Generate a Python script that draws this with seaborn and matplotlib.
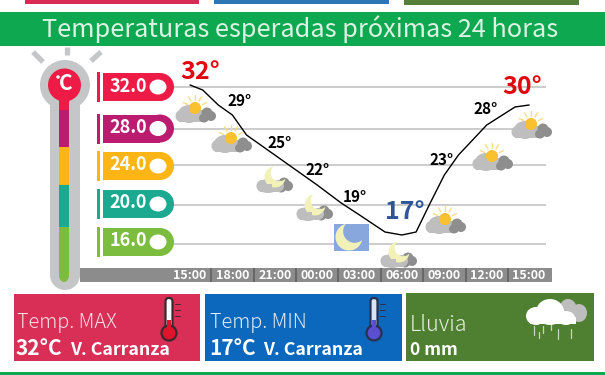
import numpy as np
import matplotlib
matplotlib.use("Agg")
import matplotlib.pyplot as plt
from matplotlib.patches import Circle, Ellipse, Rectangle, Polygon, FancyBboxPatch
import seaborn as sns

# Data
# --------------
title = "Temperaturas esperadas próximas 24 horas"

trace_hours = [0, 0.9, 2, 3, 4, 7, 9, 10.7, 12, 13.8, 15, 16, 17, 18, 19, 21, 23, 24]
trace_temps = [32, 31.5, 30, 29, 27, 24, 22, 20.2, 19, 17.3, 17, 17.3, 20.2, 23, 25, 28, 29.8, 30]

tick_hours = [0, 3, 6, 9, 12, 15, 18, 21, 24]
tick_labels = ["15:00", "18:00", "21:00", "00:00", "03:00", "06:00", "09:00", "12:00", "15:00"]

small_hours = [3, 6, 9, 12, 18, 21]
small_temps = [29, 25, 22, 19, 23, 28]
big_hours = [0, 15, 24]
big_temps = [32, 17, 30]
big_colors = ["#E2070F", "#2E5597", "#E2070F"]

level_labels = ["32.0", "28.0", "24.0", "20.0", "16.0"]
level_marks = [31.8, 27.6, 24.0, 20.0, 16.1]
level_colors = ["#ED1B45", "#BC1C6F", "#FDB515", "#1BA98F", "#7CBC3F"]

icon_kinds = ["sun", "sun", "moon", "moon", "box", "moon", "sun", "sun", "sun"]

GREEN = "#0DA850"
GRAY = "#C5C6C8"

# Set-up
# --------------
sns.set_theme(style="white")
plt.rcParams["font.family"] = ["Noto Sans CJK JP", "DejaVu Sans"]

figure = plt.figure(figsize=(6.05, 3.75), dpi=100)

# chart axes, placed so 1 hour = 14.13 px and 1 degree = 10 px
left, right, top, bottom = 80, 552, 60, 282
ax = figure.add_axes([left / 605, 1 - bottom / 375, (right - left) / 605, (bottom - top) / 375])
ax.set_xlim((left - 190) / 14.13, (right - 190) / 14.13)
ax.set_ylim(32 - (bottom - 85) / 10, 32 - (top - 85) / 10)
ax.patch.set_alpha(0)
ax.set_axisbelow(False)
sns.despine(ax=ax, left=True, bottom=True)
ax.set_yticks([])

# pixel axes for the decoration, above the chart
deco = figure.add_axes([0, 0, 1, 1], zorder=2)
deco.set_xlim(0, 605)
deco.set_ylim(375, 0)
deco.axis("off")
deco.patch.set_alpha(0)


def box(x0, y0, x1, y1, color, z=1, **kw):
    patch = Rectangle((x0, y0), x1 - x0, y1 - y0, color=color, lw=0, zorder=z, **kw)
    deco.add_patch(patch)
    return patch


def blob(x, y, w, h, color, z=1):
    deco.add_patch(Ellipse((x, y), w, h, color=color, lw=0, zorder=z))


def crescent(cx, cy, R, r, d, phi, color, z=3):
    # outer arc on the far side, inner arc back on the near side
    px = (d * d + R * R - r * r) / (2 * d)
    h = np.sqrt(R * R - px * px)
    a = np.arctan2(h, px)
    b = np.arctan2(h, px - d)
    t1 = np.linspace(a, 2 * np.pi - a, 40)
    t2 = np.linspace(2 * np.pi - b, b, 40)
    xs = np.r_[R * np.cos(t1), d + r * np.cos(t2)]
    ys = np.r_[R * np.sin(t1), r * np.sin(t2)]
    c, s = np.cos(phi), np.sin(phi)
    deco.add_patch(Polygon(np.c_[cx + xs * c - ys * s, cy + xs * s + ys * c], color=color, lw=0, zorder=z))


def grey_cloud(x, base, w, hump=18, color="#BEBEBE", z=2.5):
    box(x + 3, base - 8, x + w - 3, base, color, z)
    blob(x + 5, base - 6, 11, 12, color, z)
    blob(x + w * 0.42, base - hump / 2 + 1, 22, hump, color, z)
    blob(x + w - 5, base - 6, 12, 12, color, z)


def dark_cloud(x, y, z=2):
    blob(x, y, 11, 11, "#8E8E8E", z)
    blob(x + 4, y + 3, 10, 10, "#8E8E8E", z)
    blob(x - 3, y + 5, 10, 9, "#8E8E8E", z)


def sun_icon(x, base):
    for ang in [25, 60, 90, 120, 155]:
        ca, sa = np.cos(np.radians(ang)), np.sin(np.radians(ang))
        deco.plot([x + 19 + 8 * ca, x + 19 + 13 * ca], [base - 14 - 8 * sa, base - 14 - 13 * sa],
                  color="#F5DE8A", lw=1, zorder=1.5)
    dark_cloud(x + 31, base - 9, 2.6)
    grey_cloud(x, base, 31)
    blob(x + 19, base - 14, 12, 12, "#F9C02F", 3)


def moon_icon(x, base):
    dark_cloud(x + 27, base - 9)
    grey_cloud(x, base, 26, hump=14)
    crescent(x + 18, base - 15, 10.5, 8.5, 6, np.radians(-45), "#F2F2B8", 3)
    box(x + 3, base - 8, x + 15, base, "#BEBEBE", 3.2)


# Chart
# --------------
ax.hlines(level_marks, (173 - 190) / 14.13, (546 - 190) / 14.13, color="#CCCCCC", lw=1.4, zorder=1)
ax.axhspan(12.3, 13.7, color="#8C8C8C", lw=0, zorder=1)
ax.vlines(np.array(tick_hours[:-1]) + 1.5, 12.3, 13.7, color="#666666", lw=1.4, zorder=2)

sns.lineplot(x=trace_hours, y=trace_temps, color="black", lw=1.0, ax=ax, zorder=4, errorbar=None)
ax.set_xticks(tick_hours, tick_labels)
ax.tick_params(axis="x", length=0, pad=-9.5, labelsize=9, labelcolor="white")
for tick in ax.get_xticklabels():
    tick.set_fontweight("bold")
ax.set(xlabel="", ylabel="")

# value labels, offsets in pixels from their points
small_offsets = [(7, 13.5), (5, 12), (0, 15), (-5, 17.5), (-2.5, 15), (-1.5, 15.5)]
for h, t, off in zip(small_hours, small_temps, small_offsets):
    ax.annotate(f"{t}°", (h, t), xytext=off, textcoords="offset pixels", ha="center", va="center",
                fontsize=11, fontweight="bold", color="black", zorder=5)
big_offsets = [(10, 13), (3, 23), (-7, 18)]
for h, t, c, off in zip(big_hours, big_temps, big_colors, big_offsets):
    ax.annotate(f"{t}°", (h, t), xytext=off, textcoords="offset pixels", ha="center", va="center",
                fontsize=18, fontweight="bold", color=c, zorder=5)

# Header and footer
# --------------
box(25, 0, 199, 4, "#D92C55")
box(214, 0, 389, 4, "#2E75B5")
box(404, 0, 579, 5, "#557F38")
box(0, 12, 605, 46, GREEN)
box(0, 372, 605, 375, GREEN)
deco.text(300, 29, title, ha="center", va="center", color="#DDF3E4", fontsize=18.2, zorder=2)

# Thermometer and level pills
# --------------
for x0, y0, x1, y1 in [(33, 52, 43, 62), (66.5, 47, 66.5, 55), (101, 52, 91, 61)]:
    deco.plot([x0, x1], [y0, y1], color=GRAY, lw=3.8, zorder=1, solid_capstyle="butt")
box(50, 85, 80, 275, GRAY)
blob(65, 275, 30, 30, GRAY)
blob(65, 85, 50, 50, GRAY)
seg_edges = [85, 110, 147, 185, 227, 275]
for y0, y1, c in zip(seg_edges[:-1], seg_edges[1:], level_colors):
    box(59, y0, 69, y1, c, 2)
blob(64, 275, 10, 14, level_colors[-1], 2)
blob(64.5, 85, 33, 33, level_colors[0], 3)
deco.text(65.5, 84, "C", color="white", fontsize=15, fontweight="bold", ha="center", va="center", zorder=4)
blob(58, 77, 3.5, 3.5, "white", 4)

pill_rows = [87, 128.5, 166, 204, 242]
for y, label, c in zip(pill_rows, level_labels, level_colors):
    box(97, y - 15, 100, y + 15, c)
    box(103, y - 14, 160, y + 14, c)
    blob(160, y, 28, 28, c)
    blob(158, y, 17, 15, "white", 2)
    deco.text(128, y - 1, label, color="white", fontsize=13, fontweight="bold", ha="center", va="center", zorder=2)

# Weather icons
# --------------
icon_left = [176, 212, 257, 297, 334, 381, 426, 473, 512]
icon_base = [122, 152, 192, 220, 251, 267, 233, 170, 138]
for kind, x, base in zip(icon_kinds, icon_left, icon_base):
    if kind == "sun":
        sun_icon(x, base)
    elif kind == "moon":
        moon_icon(x, base)
    else:
        box(x, base - 27, x + 35, base, "#87A7DD")
        crescent(349, 237, 13.5, 11.5, 8, np.radians(-45), "#F2F2B8")

# Summary cards
# --------------
box(14, 294, 200, 361, "#D92E56")
box(205, 294, 402, 361, "#0B68BD")
box(406, 293, 594, 361, "#4F8032")

for x, head, note in [(17, "Temp. MAX", "32°C"), (210, "Temp. MIN", "17°C")]:
    deco.text(x, 328, head, color="#F6E3E8" if x == 17 else "#E3EEF8", fontsize=14.3, fontweight="light",
              va="baseline", zorder=2)
    deco.text(x - 1, 355, note, color="white", fontsize=15, fontweight="bold", va="baseline", zorder=2)
    deco.text(x + 53, 355, "V. Carranza", color="white", fontsize=12.8, fontweight="bold", va="baseline", zorder=2)
deco.text(410, 331, "Lluvia", color="#E6F0DF", fontsize=15.5, fontweight="light", va="baseline", zorder=2)
deco.text(410, 355, "0 mm", color="white", fontsize=12.5, fontweight="bold", va="baseline", zorder=2)


def thermo(x, fill, bulb, edge):
    deco.add_patch(FancyBboxPatch((x - 3.5, 298), 7, 36, boxstyle="round,pad=0,rounding_size=3.5",
                                  fc=fill, ec=edge, lw=1.6, zorder=2))
    deco.add_patch(Circle((x, 333), 7.5, fc=bulb, ec=edge, lw=1.6, zorder=2))
    box(x - 2, 320, x + 2, 332, bulb, 3)
    for y in [304, 310, 316]:
        deco.plot([x + 6, x + 11], [y, y], color=edge, lw=0.7, zorder=2)


thermo(169, "white", "#E0132B", "#3A2A2E")
thermo(374, "#D8E4F4", "#5A4FCF", "#27304F")

# rain cloud
for xc, yc, w, h in [(568, 310, 18, 22), (579, 313, 16, 18), (564, 318, 30, 12)]:
    blob(xc, yc, w, h, "#BDBDBD", 2)
for xc, yc, w, h in [(536, 316, 20, 18), (550, 312, 28, 26), (566, 318, 18, 14)]:
    blob(xc, yc, w, h, "white", 3)
box(530, 317, 576, 324, "white", 3)
for x, y0, y1 in [(534, 326, 335), (539, 332, 338), (543, 326, 333), (551, 325, 330), (558, 329, 339), (571, 329, 338)]:
    deco.plot([x, x], [y0, y1], color="#C9D6BF", lw=0.9, zorder=2)

# Rendering
# --------------
figure.savefig("out.png", dpi=100)
